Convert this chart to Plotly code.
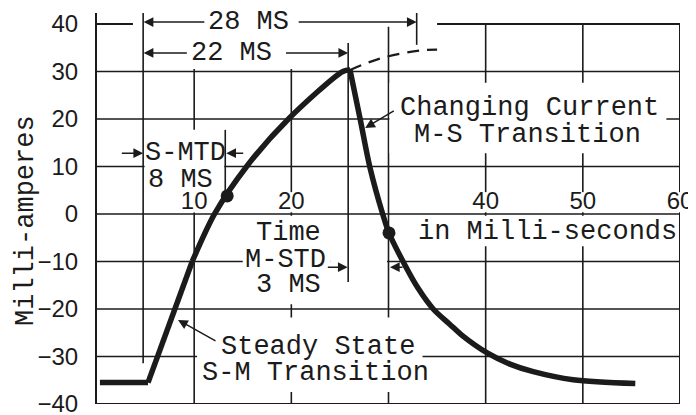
import plotly.graph_objects as go

# ---------------- data ----------------
flat_t = [0.3, 5.25]
flat_ma = [-35.5, -35.5]

rise_lin_t = [5.25, 6.2, 8.0, 9.8]
rise_lin_ma = [-35.5, -30, -20, -10]

rise_t = [9.8, 12.1, 15.4, 19.7, 25.3, 26.04]
rise_ma = [-10, 0, 10, 20, 30, 30.3]

fall_t = [26.04, 27.1, 28.1, 29.4, 30.05, 31.7, 33.0, 34.6, 36.3, 37.6, 40.2, 42.5, 44.9, 49.0, 55.4]
fall_ma = [30.3, 19.8, 9.7, 0, -4.0, -10.8, -15.5, -20.0, -23.2, -25.6, -29.3, -31.6, -33.2, -34.9, -35.7]

dash_t = [26.04, 29.1, 33.2, 35.0]
dash_ma = [30.3, 32.7, 34.4, 34.6]

dot_t = [13.4, 30.05]
dot_ma = [3.8, -4.0]

x_ticks = [10, 20, 40, 50, 60]
y_ticks = [-40, -30, -20, -10, 0, 10, 20, 30, 40]
grid_x = [10, 20, 30, 40, 50, 60]

INK = "#1b1b1b"
MONO = "Liberation Mono, DejaVu Sans Mono, monospace"
SANS = "Liberation Sans, DejaVu Sans, sans-serif"

fig = go.Figure()

line_style = dict(color=INK, width=5.5)
fig.add_trace(go.Scatter(x=flat_t, y=flat_ma, mode="lines", line=line_style, hoverinfo="skip"))
fig.add_trace(go.Scatter(x=rise_lin_t, y=rise_lin_ma, mode="lines", line=line_style, hoverinfo="skip"))
fig.add_trace(go.Scatter(x=rise_t, y=rise_ma, mode="lines",
                         line=dict(line_style, shape="spline", smoothing=0.8), hoverinfo="skip"))
fig.add_trace(go.Scatter(x=fall_t, y=fall_ma, mode="lines",
                         line=dict(line_style, shape="spline", smoothing=0.9), hoverinfo="skip"))
fig.add_trace(go.Scatter(x=dash_t, y=dash_ma, mode="lines",
                         line=dict(color=INK, width=2.2, dash="12px,8px", shape="spline"), hoverinfo="skip"))
fig.add_trace(go.Scatter(x=dot_t, y=dot_ma, mode="markers",
                         marker=dict(size=13, color=INK), hoverinfo="skip"))

shapes = []
grid_line = dict(color=INK, width=1.6)
for v in y_ticks:
    shapes.append(dict(type="line", xref="x", yref="y", x0=0, x1=60, y0=v, y1=v,
                       line=dict(color=INK, width=2 if v in (-40, 40) else 1.6), layer="between"))
for v in grid_x:
    shapes.append(dict(type="line", xref="x", yref="y", x0=v, x1=v, y0=-40, y1=40,
                       line=dict(color=INK, width=2 if v == 60 else 1.6), layer="between"))

# white masks where the original grid is broken by lettering
masks = [
    (3.7, 35.0, 39.4, 40.8),
    (4.9, 25.7, 30.5, 40.8),
    (4.9, 13.1, 0.35, 17.7),
    (15.0, 24.0, -19.0, -0.35),
    (24.0, 29.85, -10.6, -9.4),
    (10.3, 33.5, -37.5, -21.8),
    (30.1, 58.6, 12.8, 27.6),
    (32.5, 59.85, -6.8, -0.35),
]
for v in x_ticks:
    masks.append((v - 1.6, v + 1.6, 0.35, 4.6))
for x0, x1, y0, y1 in masks:
    shapes.append(dict(type="rect", xref="x", yref="y", x0=x0, x1=x1, y0=y0, y1=y1,
                       fillcolor="white", line=dict(width=0), layer="between"))

# dimension lines
for x0, y0, y1 in [(4.75, 42.3, -31.4), (25.85, 36.0, -14.3), (32.9, 42.3, 35.6), (13.2, 17.7, 3.0)]:
    shapes.append(dict(type="line", xref="x", yref="y", x0=x0, x1=x0, y0=y0, y1=y1,
                       line=grid_line, layer="between"))

ann = []


def text(x, y, s, size=27):
    ann.append(dict(x=x, y=y, xref="x", yref="y", text=s, showarrow=False,
                    font=dict(family=MONO, size=size, color=INK)))


def arrow(tx, ty, ax, ay):
    ann.append(dict(x=tx, y=ty, ax=ax, ay=ay, xref="x", yref="y", axref="x", ayref="y",
                    text="", showarrow=True, arrowhead=2, arrowsize=1.3,
                    arrowwidth=1.5, arrowcolor=INK))


text(15.6, 40.4, "28 MS")
text(13.8, 33.9, "22 MS")
text(9.06, 12.8, "S-MTD")
text(8.64, 7.2, "8 MS")
text(19.66, -4.0, "Time")
text(19.35, -9.7, "M-STD")
text(19.66, -14.9, "3 MS")
text(22.7, -28.0, "Steady State")
text(22.5, -33.5, "S-M Transition")
text(44.46, 22.3, "Changing Current")
text(44.35, 16.6, "M-S Transition")
text(46.4, -3.8, "in Milli-seconds")

arrow(4.8, 40.4, 11.2, 40.4)
arrow(32.9, 40.4, 20.6, 40.4)
arrow(4.8, 33.9, 9.4, 33.9)
arrow(25.85, 33.9, 19.3, 33.9)
arrow(4.75, 12.8, 2.4, 12.8)
arrow(13.3, 12.8, 15.2, 12.8)
arrow(25.8, -11.2, 23.6, -11.2)
arrow(30.15, -11.2, 31.6, -11.2)
arrow(27.6, 18.1, 30.7, 21.9)
arrow(8.34, -22.3, 12.35, -26.9)

# y-axis title (rotated lettering)
ann.append(dict(x=-0.1218, y=0.4706, xref="paper", yref="paper", text="Milli-amperes",
                textangle=-90, showarrow=False, xanchor="center", yanchor="middle",
                font=dict(family=MONO, size=27, color=INK)))

# The page body adds an 8px margin, so the figure is sized to fit the window.
fig.update_layout(
    width=688, height=407,
    margin=dict(l=89, r=16, t=5, b=11),
    paper_bgcolor="white", plot_bgcolor="white",
    showlegend=False,
    shapes=shapes,
    annotations=ann,
    xaxis=dict(range=[0, 60], showgrid=False, zeroline=False, showline=False,
               side="top", anchor="free", position=40 / 82.3, automargin=False,
               tickvals=x_ticks, ticktext=[str(v) for v in x_ticks], ticks="",
               ticklabeloverflow="allow",
               tickfont=dict(family=SANS, size=24, color=INK), ticklabelstandoff=0),
    yaxis=dict(range=[-40, 42.3], showgrid=False, zeroline=False, automargin=False,
               showline=True, linecolor=INK, linewidth=2,
               tickvals=y_ticks, ticks="", ticklabelstandoff=12,
               ticklabeloverflow="allow",
               tickfont=dict(family=SANS, size=24, color=INK)),
)

fig.write_html("out.html")
